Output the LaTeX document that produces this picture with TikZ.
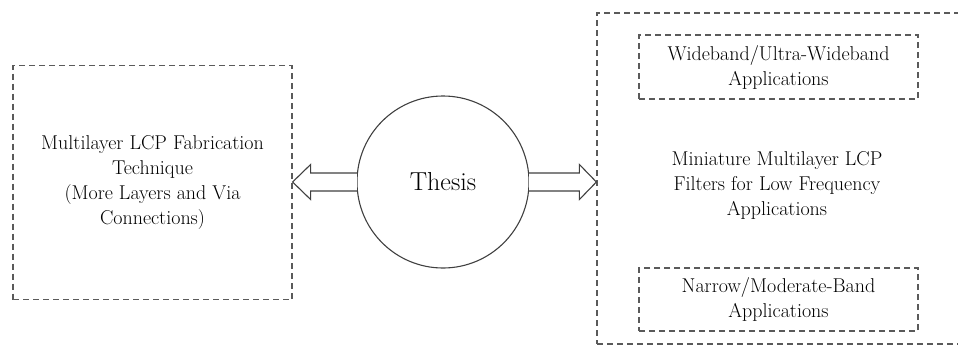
\documentclass[tikz,border=0pt]{standalone}
\usetikzlibrary{calc}
\definecolor{dashgrey}{HTML}{5A5A5A}
\definecolor{linegrey}{HTML}{404040}
\begin{document}
\begin{tikzpicture}[x=1pt,y=-1pt,
  dbox/.style={draw=dashgrey, line width=1.2pt, dash pattern=on 6pt off 4pt, align=center, inner sep=0pt,
     font=\rmfamily\fontsize{20}{25}\selectfont},
  plain/.style={align=center, inner sep=0pt, font=\rmfamily\fontsize{20}{25}\selectfont},
  blockarrow/.style={draw=linegrey, line width=1.1pt, fill=white, line join=miter}
]
\useasboundingbox (0,0) rectangle (958,354);
\clip (0,0) rectangle (958,354);
\node[dbox, minimum width=279pt, minimum height=234pt] (left) at (152.5,182.5)
  {Multilayer LCP Fabrication\\Technique\\(More Layers and Via\\Connections)};
\node[dbox, minimum width=366pt, minimum height=331pt] (right) at (780,178.5) {};
\node[plain] (mid) at (777,185) {Miniature Multilayer LCP\\Filters for Low Frequency\\Applications};
\node[dbox, minimum width=279pt, minimum height=64pt] (wide) at (778.5,67)
  {Wideband/Ultra-Wideband\\Applications};
\node[dbox, minimum width=279pt, minimum height=63pt] (narrow) at (778.5,299.5)
  {Narrow/Moderate-Band\\Applications};
\node[circle, draw=linegrey, line width=1.1pt, minimum size=172pt, inner sep=0pt,
  font=\rmfamily\fontsize{26}{30}\selectfont] (thesis) at (443,182) {Thesis};
\coordinate (ltip) at (left.east |- thesis.west);
\coordinate (rtip) at (right.west |- thesis.east);
% left block arrow
\draw[blockarrow] ($(thesis.west)+(0.5,-9)$) -- ($(ltip)+(18,-9)$) -- ($(ltip)+(18,-17.5)$)
  -- (ltip) -- ($(ltip)+(18,17.5)$) -- ($(ltip)+(18,9)$) -- ($(thesis.west)+(0.5,9)$);
% right block arrow
\draw[blockarrow] ($(thesis.east)+(-0.5,-9)$) -- ($(rtip)+(-17,-9)$) -- ($(rtip)+(-17,-17.5)$)
  -- (rtip) -- ($(rtip)+(-17,17.5)$) -- ($(rtip)+(-17,9)$) -- ($(thesis.east)+(-0.5,9)$);
\end{tikzpicture}
\end{document}
